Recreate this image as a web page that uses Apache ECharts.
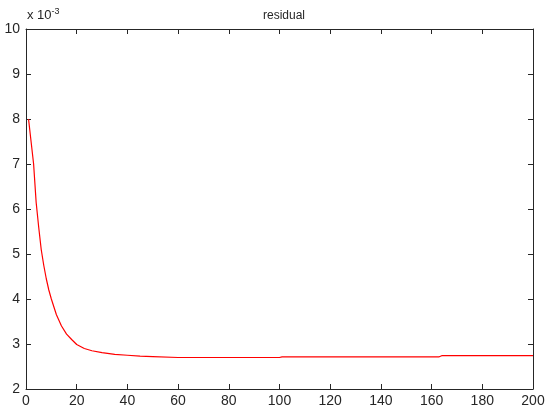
<!DOCTYPE html>
<html><head><meta charset="utf-8">
<script src="https://cdn.jsdelivr.net/npm/echarts@6/dist/echarts.min.js"></script>
<style>html,body{margin:0;padding:0;background:#fff}#c{width:550px;height:417px}</style>
</head><body><div id="c"></div>
<script>
const iterations = [1,2,3,4,5,6,7,8,9,10,12,14,16,18,20,23,26,30,35,40,45,50,60,80,100,101,163,164,200];
const residual = [8.0,7.5,7.0,6.15,5.6,5.1,4.75,4.45,4.2,4.0,3.65,3.4,3.22,3.1,2.99,2.9,2.85,2.81,2.77,2.75,2.73,2.72,2.70,2.70,2.70,2.715,2.715,2.74,2.74];
const xTicks = [0,20,40,60,80,100,120,140,160,180,200];
const yTicks = [2,3,4,5,6,7,8,9,10];
const titleText = 'residual';

const chart = echarts.init(document.getElementById('c'), null, {renderer:'canvas'});
const axCol = '#262626';
const font = 'Liberation Sans, Arial, sans-serif';
const baseAxis = {
  axisLine:{show:true,onZero:false,lineStyle:{color:axCol,width:1}},
  axisTick:{show:true,inside:true,length:5,lineStyle:{color:axCol}},
  splitLine:{show:false}
};
chart.setOption({
  animation:false,
  title:{text:titleText,left:279,top:5,textAlign:'center',textStyle:{fontFamily:font,fontSize:12,fontWeight:'normal',color:axCol}},
  graphic:[{type:'text',left:27,top:7,style:{rich:{a:{fontFamily:font,fontSize:13,fill:axCol},b:{fontFamily:font,fontSize:9,fill:axCol,verticalAlign:'top',padding:[0,0,8,0]}},text:'{a|x 10}{b|-3}'}}],
  grid:{left:26,right:17,top:29,bottom:28,containLabel:false},
  xAxis:[
    Object.assign({type:'value',min:0,max:200,interval:20,position:'bottom',
      axisLabel:{show:true,color:axCol,fontFamily:font,fontSize:14,margin:5,formatter:v=>xTicks.includes(v)?String(v):''}},baseAxis),
    Object.assign({type:'value',min:0,max:200,interval:20,position:'top',axisLabel:{show:false}},baseAxis)
  ],
  yAxis:[
    Object.assign({type:'value',min:2,max:10,interval:1,position:'left',
      axisLabel:{show:true,color:axCol,fontFamily:font,fontSize:14,margin:6,formatter:v=>yTicks.includes(v)?String(v):''}},baseAxis),
    Object.assign({type:'value',min:2,max:10,interval:1,position:'right',axisLabel:{show:false}},baseAxis)
  ],
  series:[{type:'line',data:iterations.map((x,i)=>[x,residual[i]]),showSymbol:false,symbol:'none',
    lineStyle:{color:'#ff0000',width:1.2},smooth:false}]
});
</script></body></html>
